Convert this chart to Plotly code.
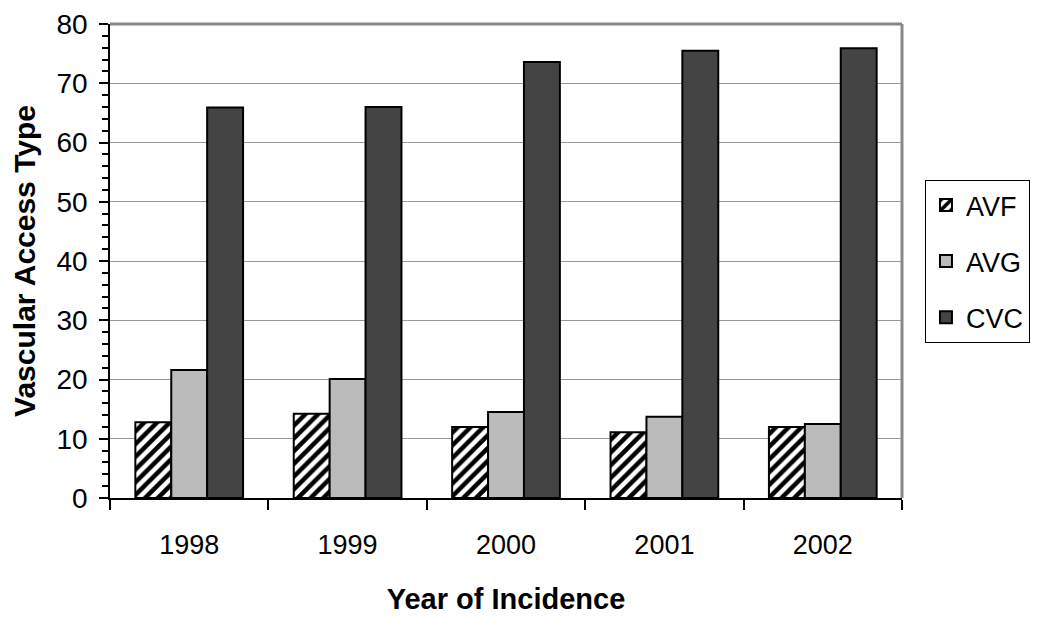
import plotly.graph_objects as go

years = ["1998", "1999", "2000", "2001", "2002"]
avf = [12.8, 14.2, 12.0, 11.1, 12.0]
avg = [21.6, 20.1, 14.5, 13.7, 12.5]
cvc = [65.9, 66.0, 73.6, 75.5, 75.9]

font_family = "Arial, Liberation Sans, sans-serif"

fig = go.Figure()
fig.add_trace(go.Bar(
    x=years, y=avf, name="AVF", legendgroup="a",
    marker=dict(color="white", line=dict(color="black", width=2),
                pattern=dict(shape="/", fgcolor="black", bgcolor="white",
                             size=9, solidity=0.5, fgopacity=1, fillmode="replace")),
))
fig.add_trace(go.Bar(
    x=years, y=avg, name="AVG", legendgroup="b",
    marker=dict(color="#bbbbbb", line=dict(color="black", width=2)),
))
fig.add_trace(go.Bar(
    x=years, y=cvc, name="CVC", legendgroup="c",
    marker=dict(color="#444444", line=dict(color="black", width=2)),
))

fig.update_layout(
    width=1050, height=627,
    paper_bgcolor="white", plot_bgcolor="white",
    margin=dict(l=102, r=156, t=16, b=137),
    barmode="group", bargap=0.32, bargroupgap=0,
    font=dict(family=font_family, size=27, color="black"),
    showlegend=True,
    legend=dict(
        x=1.029, y=0.671, xanchor="left", yanchor="top",
        bordercolor="black", borderwidth=1, bgcolor="white",
        font=dict(size=27, family=font_family),
        tracegroupgap=18, traceorder="grouped",
    ),
    shapes=[
        dict(type="line", xref="paper", yref="paper", x0=0, x1=1, y0=1, y1=1,
             line=dict(color="#888888", width=3)),
        dict(type="line", xref="paper", yref="paper", x0=1, x1=1, y0=0, y1=1,
             line=dict(color="#888888", width=3)),
    ],
)

fig.update_xaxes(
    automargin=False,
    showline=True, linecolor="black", linewidth=1.5,
    ticks="outside", tickson="boundaries", ticklen=10, tickwidth=1.5, tickcolor="black",
    tickfont=dict(size=27), ticklabelstandoff=22,
    title=dict(text="<b>Year of Incidence</b>", font=dict(size=29), standoff=30),
    showgrid=False,
)
fig.update_yaxes(
    automargin=False,
    range=[0, 80], dtick=10,
    showline=True, linecolor="black", linewidth=1.5,
    ticks="outside", ticklen=9, tickwidth=1.5, tickcolor="black",
    minor=dict(dtick=2, ticks="outside", ticklen=6, tickwidth=1.5, tickcolor="black", showgrid=False),
    showgrid=True, gridcolor="#999999", gridwidth=1.2,
    tickfont=dict(size=28), ticklabelstandoff=6,
    title=dict(text="<b>Vascular Access Type</b>", font=dict(size=30), standoff=15),
    zeroline=False,
)

fig.write_html("out.html")
